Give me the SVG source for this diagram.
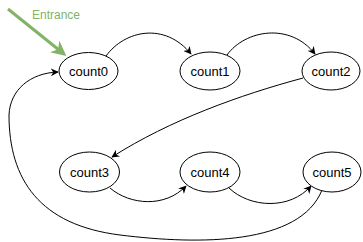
<svg xmlns="http://www.w3.org/2000/svg" width="363" height="242" viewBox="0 0 363 242">
  <defs>
    <marker id="arrow" viewBox="0 0 10 10" refX="9" refY="5" markerWidth="8" markerHeight="8" orient="auto" markerUnits="userSpaceOnUse">
      <path d="M0,0 L10,5 L0,10 L3,5 Z" fill="#000"/>
    </marker>
    <marker id="arrowGreen" viewBox="0 0 10 10" refX="8" refY="5" markerWidth="15" markerHeight="15" orient="auto" markerUnits="userSpaceOnUse">
      <path d="M0,0 L10,5 L0,10 L3,5 Z" fill="#82b366"/>
    </marker>
  </defs>
  <style>
    .node ellipse { fill: #fff; stroke: #000; stroke-width: 1; }
    .node text { font-family: "Liberation Sans", Arial, sans-serif; font-size: 13px; fill: #000; text-anchor: middle; dominant-baseline: central; }
    .edge { fill: none; stroke: #000; stroke-width: 1; marker-end: url(#arrow); }
  </style>
  <rect width="363" height="242" fill="#fff"/>

  <g id="connectors">
    <!-- entry arrow -->
    <path d="M8,9 L64,54" fill="none" stroke="#82b366" stroke-width="3" marker-end="url(#arrowGreen)"/>
    <text x="32" y="19" font-family="Liberation Sans, Arial, sans-serif" font-size="12" fill="#82b366">Entrance</text>
    <path class="edge" d="M106,56 C125,30 165,22 191,54"/>
    <path class="edge" d="M227,55 C245,30 290,22 315,54"/>
    <path class="edge" d="M303,78 C240,95 170,120 112,157"/>
    <path class="edge" d="M110,188 C130,205 165,208 186,186"/>
    <path class="edge" d="M229,188 C250,208 290,210 311,186"/>
    <path class="edge" d="M322,190 C300,245 200,245 120,235 C40,225 9,180 9,115 C10,90 30,73 58,72"/>
  </g>

  <g id="count0" class="node"><ellipse cx="88.5" cy="71" rx="29.5" ry="18.5"/><text x="88.5" y="71">count0</text></g>
  <g id="count1" class="node"><ellipse cx="210" cy="71" rx="30" ry="19"/><text x="210" y="71">count1</text></g>
  <g id="count2" class="node"><ellipse cx="331" cy="71" rx="29" ry="19"/><text x="331" y="71">count2</text></g>
  <g id="count3" class="node"><ellipse cx="89.5" cy="172" rx="30" ry="20"/><text x="89.5" y="172">count3</text></g>
  <g id="count4" class="node"><ellipse cx="210" cy="172" rx="30" ry="20"/><text x="210" y="172">count4</text></g>
  <g id="count5" class="node"><ellipse cx="332" cy="172" rx="29" ry="20"/><text x="332" y="172">count5</text></g>
</svg>
